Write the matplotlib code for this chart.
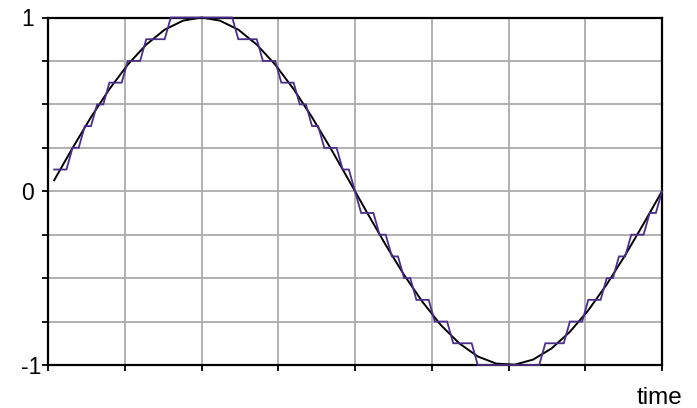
import numpy as np
import matplotlib
matplotlib.use("Agg")
import matplotlib.pyplot as plt
from matplotlib.transforms import blended_transform_factory

# Sample index (categories) for the quantized signal: 100 samples over 8 grid units
quant_idx = list(range(1, 101))
# Quantized levels in eighths, read from the staircase
quant_eighths = ([1]*3 + [2]*2 + [3]*2 + [4]*2 + [5]*3 + [6]*3 + [7]*4 + [8]*11 +
                 [7]*4 + [6]*3 + [5]*3 + [4]*2 + [3]*2 + [2]*3 + [1]*2 + [0] +
                 [-1]*3 + [-2]*2 + [-3]*2 + [-4]*2 + [-5]*3 + [-6]*3 + [-7]*4 + [-8]*11 +
                 [-7]*4 + [-6]*3 + [-5]*3 + [-4]*2 + [-3]*2 + [-2]*3 + [-1]*2 + [0])

# Continuous (black) signal, coarser sample points
sine_idx = [1, 4, 7, 10, 13, 16, 19, 22, 25, 28, 31, 34, 37, 40, 43, 46, 49,
            52, 55, 58, 61, 64, 67, 70, 73, 76, 79, 82, 85, 88, 91, 94, 97, 100]
sine_vals = [0.063, 0.249, 0.426, 0.588, 0.729, 0.844, 0.930, 0.982, 1.000,
             0.982, 0.930, 0.844, 0.729, 0.588, 0.426, 0.249, 0.063,
             -0.125, -0.309, -0.482, -0.637, -0.771, -0.876, -0.951, -0.992,
             -0.998, -0.969, -0.905, -0.809, -0.685, -0.536, -0.368, -0.187, 0.000]

y_label_vals = [1, 0, -1]
y_label_texts = ["1", "0", "-1"]
x_label = "time"

plt.rcParams['font.family'] = ['Liberation Sans', 'DejaVu Sans']

fig = plt.figure(figsize=(6.97, 4.08), dpi=100)
ax = fig.add_axes([48/697, 1-365/408, (662-48)/697, (365-17.5)/408])

quant = np.array(quant_eighths) / 8.0

ax.plot(sine_idx, sine_vals, color='black', lw=1.4, zorder=3, clip_on=False,
        solid_joinstyle='miter')
ax.plot(quant_idx, quant, color='#4b2d8c', lw=1.3, zorder=4, clip_on=False,
        solid_joinstyle='miter')

ax.set_xlim(0, 100)
ax.set_ylim(-1, 1)
ax.set_xticks(np.linspace(0, 100, 9))
ax.set_xticklabels([])
ax.set_yticks(np.linspace(-1, 1, 9))
ax.set_yticklabels([])
ax.tick_params(direction='out', length=4, width=1.3, color='black')
ax.grid(True, color='#ababab', lw=1.3)
ax.set_axisbelow(True)
for s in ax.spines.values():
    s.set_color('black')
    s.set_linewidth(1.6)
    s.set_zorder(2.5)

trans = blended_transform_factory(fig.transFigure, ax.transData)
for v, t in zip(y_label_vals, y_label_texts):
    ax.text(21/697, v, t, transform=trans, ha='left', va='center_baseline',
            fontsize=16.5)

fig.text(682/697, 1-404.5/408, x_label, ha='right', va='baseline', fontsize=17.5)

fig.savefig('out.png', dpi=100)
